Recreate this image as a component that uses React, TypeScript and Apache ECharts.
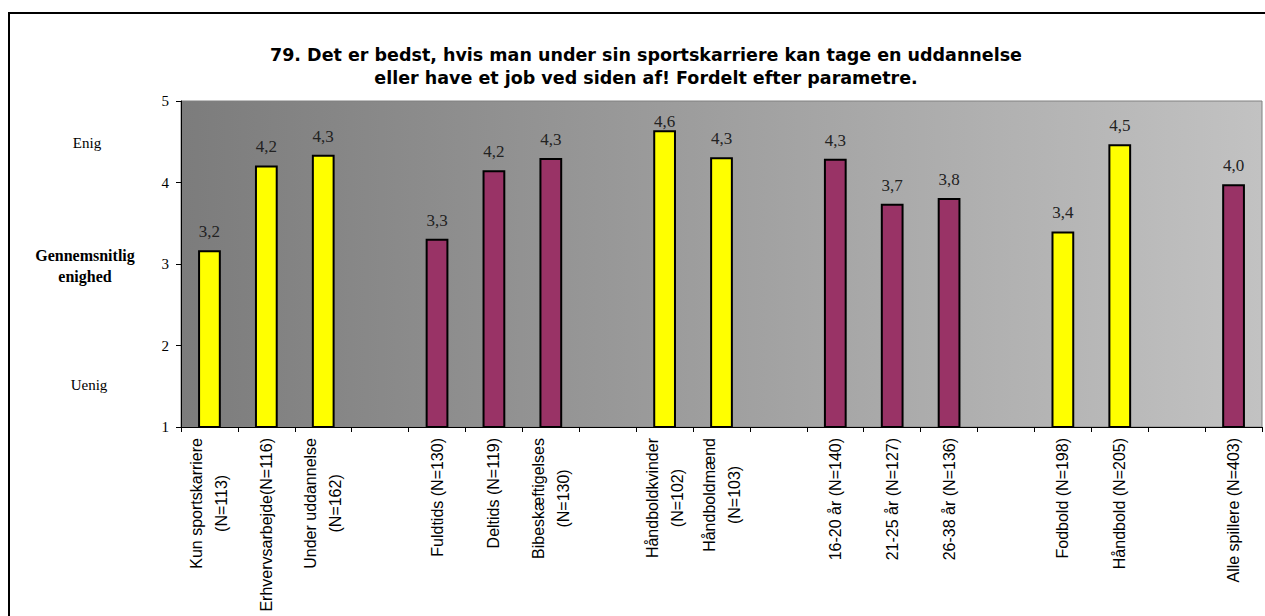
import React, { useEffect, useRef } from "react";
import * as echarts from "echarts";

const titleLines = [
  "79. Det er bedst, hvis man under sin sportskarriere kan tage en uddannelse",
  "eller have et job ved siden af! Fordelt efter parametre.",
];

const categories = [
  "Kun sportskarriere\n(N=113)",
  "Erhvervsarbejde(N=116)",
  "Under uddannelse\n(N=162)",
  "",
  "Fuldtids (N=130)",
  "Deltids (N=119)",
  "Bibeskæftigelses\n(N=130)",
  "",
  "Håndboldkvinder\n(N=102)",
  "Håndboldmænd\n(N=103)",
  "",
  "16-20 år (N=140)",
  "21-25 år (N=127)",
  "26-38 år (N=136)",
  "",
  "Fodbold (N=198)",
  "Håndbold (N=205)",
  "",
  "Alle spillere (N=403)",
];

const values: (number | null)[] = [
  3.17, 4.21, 4.34, null, 3.31, 4.15, 4.3, null, 4.64, 4.31, null, 4.29, 3.74,
  3.81, null, 3.4, 4.47, null, 3.98,
];

// Y = yellow group, P = purple group
const barGroup = ["Y", "Y", "Y", "", "P", "P", "P", "", "Y", "Y", "", "P", "P", "P", "", "Y", "Y", "", "P"];

const yTicks = [1, 2, 3, 4, 5];

const sideLabels = {
  top: "Enig",
  middle: ["Gennemsnitlig", "enighed"],
  bottom: "Uenig",
};

const YELLOW = "#FFFF00";
const PURPLE = "#993366";

export default function App() {
  const ref = useRef<HTMLDivElement>(null);

  useEffect(() => {
    if (!ref.current) return;
    const chart = echarts.init(ref.current, undefined, { renderer: "svg" });

    const data = values.map((v, i) => ({
      value: v,
      itemStyle: {
        color: barGroup[i] === "Y" ? YELLOW : PURPLE,
        borderColor: "#000",
        borderWidth: 2,
      },
      // the tallest bar's label is squeezed under the plot top, as in the original
      label: v != null && v > 4.6 ? { distance: 0 } : undefined,
    }));

    const option: any = {
      animation: false,
      backgroundColor: "#ffffff",
      grid: {
        left: 181,
        top: 101,
        right: 3,
        bottom: 189,
        show: true,
        backgroundColor: {
          type: "linear",
          x: 0,
          y: 0,
          x2: 1,
          y2: 0,
          colorStops: [
            { offset: 0, color: "#7c7c7c" },
            { offset: 1, color: "#c2c2c2" },
          ],
        },
        borderColor: "#808080",
        borderWidth: 1,
      },
      xAxis: {
        type: "category",
        data: categories,
        boundaryGap: true,
        axisLine: { lineStyle: { color: "#000", width: 1 } },
        axisTick: { show: true, length: 5, alignWithLabel: false, interval: 0, lineStyle: { color: "#000" } },
        axisLabel: {
          interval: 0,
          rotate: 90,
          margin: 11,
          formatter: (v: string) =>
            v
              .split("\n")
              .map((l) => `{c|${l}}`)
              .join("\n"),
          rich: {
            c: {
              align: "center",
              fontFamily: "Liberation Sans, Arial, sans-serif",
              fontSize: 16,
              color: "#000",
              lineHeight: 25,
            },
          },
        },
      },
      yAxis: {
        type: "value",
        min: 1,
        max: 5,
        interval: 1,
        axisLine: { show: true, lineStyle: { color: "#000", width: 1 } },
        axisTick: { show: true, length: 5, lineStyle: { color: "#000" } },
        axisLabel: {
          margin: 12,
          fontFamily: "Liberation Serif, Times New Roman, serif",
          fontSize: 15,
          color: "#000",
          formatter: (v: number) => (yTicks.includes(v) ? String(v) : ""),
        },
        splitLine: {
          show: true,
          lineStyle: {
            width: 1,
            color: {
              type: "linear",
              x: 0,
              y: 0,
              x2: 1,
              y2: 0,
              colorStops: [
                { offset: 0, color: "#1a1a1a" },
                { offset: 1, color: "#666666" },
              ],
            },
          },
        },
      },
      series: [
        {
          type: "bar",
          data,
          barWidth: "40%",
          label: {
            show: true,
            position: "top",
            distance: 10,
            fontFamily: "Liberation Serif, Times New Roman, serif",
            fontSize: 17,
            color: "#222",
            formatter: (p: any) =>
              p.value == null ? "" : Number(p.value).toFixed(1).replace(".", ","),
          },
        },
      ],
      graphic: [
        {
          type: "rect",
          shape: { x: 9, y: 13, width: 1400, height: 1000 },
          style: { fill: "none", stroke: "#000", lineWidth: 2 },
          silent: true,
        },
        {
          type: "text",
          x: 646,
          y: 55,
          style: {
            text: titleLines[0],
            textAlign: "center",
            textVerticalAlign: "middle",
            font: "bold 17.5px 'DejaVu Sans', Verdana, sans-serif",
            fill: "#000",
          },
        },
        {
          type: "text",
          x: 646,
          y: 78,
          style: {
            text: titleLines[1],
            textAlign: "center",
            textVerticalAlign: "middle",
            font: "bold 17.5px 'DejaVu Sans', Verdana, sans-serif",
            fill: "#000",
          },
        },
        {
          type: "text",
          x: 87,
          y: 143,
          style: {
            text: sideLabels.top,
            textAlign: "center",
            textVerticalAlign: "middle",
            font: "15px 'Liberation Serif', 'Times New Roman', serif",
            fill: "#000",
          },
        },
        {
          type: "text",
          x: 85,
          y: 255,
          style: {
            text: sideLabels.middle[0],
            textAlign: "center",
            textVerticalAlign: "middle",
            font: "bold 16px 'Liberation Serif', 'Times New Roman', serif",
            fill: "#000",
          },
        },
        {
          type: "text",
          x: 85,
          y: 276,
          style: {
            text: sideLabels.middle[1],
            textAlign: "center",
            textVerticalAlign: "middle",
            font: "bold 16px 'Liberation Serif', 'Times New Roman', serif",
            fill: "#000",
          },
        },
        {
          type: "text",
          x: 89,
          y: 385,
          style: {
            text: sideLabels.bottom,
            textAlign: "center",
            textVerticalAlign: "middle",
            font: "15px 'Liberation Serif', 'Times New Roman', serif",
            fill: "#000",
          },
        },
      ],
    };

    chart.setOption(option);
    return () => chart.dispose();
  }, []);

  return (
    <div
      ref={ref}
      style={{ position: "absolute", left: 0, top: 0, width: 1265, height: 616 }}
    />
  );
}
